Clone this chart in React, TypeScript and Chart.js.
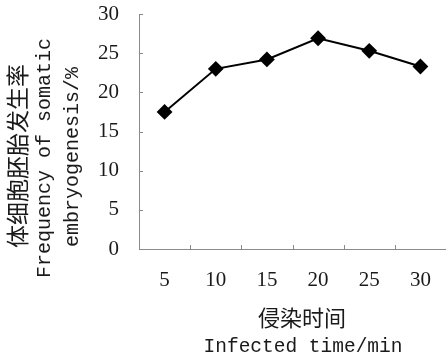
import React, { useEffect, useRef } from "react";
import { Chart, registerables } from "chart.js";

Chart.register(...registerables);

const categories = ["5", "10", "15", "20", "25", "30"];
const frequency = [17.5, 23.0, 24.2, 26.9, 25.3, 23.3];
const yTicks = [0, 5, 10, 15, 20, 25, 30];
const yTitleLines = ["体细胞胚胎发生率", "Frequency of somatic", "embryogenesis/%"];
const xTitleLines = ["侵染时间", "Infected time/min"];

const AXIS_GRAY = "#8a8a8a";
const TEXT = "#1a1a1a";

const innerTicks = {
  id: "innerTicks",
  afterDraw(chart: any) {
    const { ctx, chartArea } = chart;
    const xs = chart.scales.x;
    const ys = chart.scales.y;
    ctx.save();
    ctx.strokeStyle = AXIS_GRAY;
    ctx.lineWidth = 1;
    ctx.beginPath();
    yTicks.forEach((v) => {
      const py = Math.round(ys.getPixelForValue(v)) + 0.5;
      ctx.moveTo(chartArea.left, py);
      ctx.lineTo(chartArea.left + 4, py);
    });
    for (let i = 0; i < categories.length - 1; i++) {
      const px = Math.round((xs.getPixelForValue(i) + xs.getPixelForValue(i + 1)) / 2) + 0.5;
      ctx.moveTo(px, chartArea.bottom);
      ctx.lineTo(px, chartArea.bottom - 4);
    }
    ctx.stroke();
    ctx.restore();
  },
};

const titles = {
  id: "titles",
  afterDraw(chart: any) {
    const { ctx } = chart;
    ctx.save();
    ctx.fillStyle = TEXT;
    ctx.textAlign = "center";
    ctx.textBaseline = "middle";
    const yLines = [
      { text: yTitleLines[0], x: 17, y: 156, font: "23px 'Noto Sans CJK SC'" },
      { text: yTitleLines[1], x: 45, y: 158, font: "20px 'Liberation Mono'" },
      { text: yTitleLines[2], x: 73, y: 157, font: "20px 'Liberation Mono'" },
    ];
    yLines.forEach((l) => {
      ctx.save();
      ctx.translate(l.x, l.y);
      ctx.rotate(-Math.PI / 2);
      ctx.font = l.font;
      ctx.fillText(l.text, 0, 0);
      ctx.restore();
    });
    ctx.font = "22px 'Noto Sans CJK SC'";
    ctx.fillText(xTitleLines[0], 302, 318);
    ctx.font = "19.5px 'Liberation Mono'";
    ctx.fillText(xTitleLines[1], 303, 347);
    ctx.restore();
  },
};

const zeroPad = (s: any) => {
  s.paddingTop = 0;
  s.paddingBottom = 0;
  s.paddingLeft = 0;
  s.paddingRight = 0;
};

export default function App() {
  const ref = useRef<HTMLCanvasElement>(null);
  useEffect(() => {
    document.body.style.margin = "0";
    const chart = new Chart(ref.current as HTMLCanvasElement, {
      type: "line",
      data: {
        labels: categories,
        datasets: [
          {
            data: frequency,
            borderColor: "#000",
            borderWidth: 2,
            backgroundColor: "#000",
            pointStyle: "rectRot",
            pointRadius: 6.5,
            pointBackgroundColor: "#000",
            pointBorderColor: "#000",
            tension: 0,
            clip: false,
          },
        ],
      },
      options: {
        animation: false,
        responsive: false,
        events: [],
        layout: { autoPadding: false, padding: { top: 14, right: 0, left: 0, bottom: 0 } },
        plugins: { legend: { display: false }, tooltip: { enabled: false } },
        scales: {
          x: {
            type: "category",
            offset: true,
            grid: { display: true, drawOnChartArea: false, drawTicks: false },
            border: { display: true, color: AXIS_GRAY, width: 1 },
            ticks: {
              color: TEXT,
              font: { family: "'Liberation Serif'", size: 21 },
              padding: 19,
              maxRotation: 0,
            },
            afterFit: (s: any) => {
              s.height = 114;
              zeroPad(s);
            },
          },
          y: {
            min: 0,
            max: 30,
            grid: { display: true, drawOnChartArea: false, drawTicks: false },
            border: { display: true, color: AXIS_GRAY, width: 1 },
            ticks: {
              stepSize: 5,
              color: TEXT,
              font: { family: "'Liberation Serif'", size: 21 },
              padding: 20,
            },
            afterFit: (s: any) => {
              s.width = 139;
              zeroPad(s);
            },
          },
        },
      },
      plugins: [innerTicks, titles],
    });
    return () => chart.destroy();
  }, []);
  return <canvas ref={ref} width={446} height={363} style={{ display: "block" }} />;
}
